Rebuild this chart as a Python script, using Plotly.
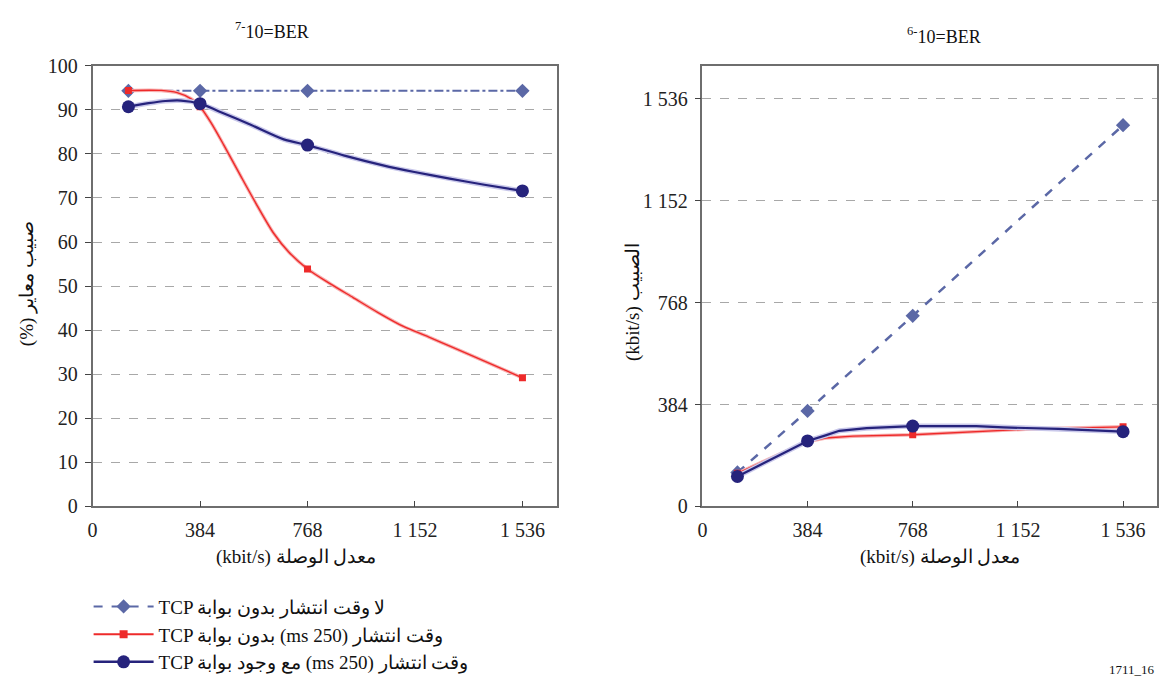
import plotly.graph_objects as go

# ---------------- data ----------------
rate_ticks = [0, 384, 768, 1152, 1536]
rate_tick_labels = ["0", "384", "768", "1 152", "1 536"]
pct_ticks = [0, 10, 20, 30, 40, 50, 60, 70, 80, 90, 100]

key_rates = [128, 384, 768, 1536]

# Left panel: BER = 10^-7, normalized throughput (%)
l_nodelay = [94.3, 94.3, 94.3, 94.3]
l_delay_nogw = [94.4, 90.7, 53.9, 29.2]
l_delay_gw = [90.7, 91.4, 82.0, 71.6]

l_nogw_curve_x = [128, 245, 302, 352, 384, 423, 469, 530, 587, 647, 700, 768,
                  850, 931, 1020, 1109, 1200, 1287, 1400, 1536]
l_nogw_curve_y = [94.4, 94.4, 93.9, 92.5, 90.7, 87.1, 82.0, 74.9, 68.4, 62.0, 57.8, 53.9,
                  50.5, 47.4, 44.0, 40.9, 38.5, 36.1, 33.0, 29.2]
l_gw_curve_x = [128, 200, 260, 316, 384, 450, 565, 683, 768, 900, 1038, 1150, 1276, 1400, 1536]
l_gw_curve_y = [90.7, 91.5, 92.0, 92.1, 91.4, 89.7, 86.6, 83.3, 82.0, 79.6, 77.4, 75.9, 74.4, 73.0, 71.6]

# Right panel: BER = 10^-6, throughput (kbit/s)
r_nodelay = [128, 360, 718, 1436]
r_delay_nogw = [125, 245, 270, 300]
r_delay_gw = [113, 247, 303, 282]

r_nogw_curve_x = [128, 384, 450, 550, 768, 1000, 1200, 1536]
r_nogw_curve_y = [125, 245, 258, 265, 270, 283, 292, 300]
r_gw_curve_x = [128, 384, 450, 500, 600, 768, 1000, 1100, 1300, 1450, 1536]
r_gw_curve_y = [113, 247, 268, 285, 295, 303, 303, 298, 292, 285, 282]

legend_names = [
    "TCP لا وقت انتشار بدون بوابة",
    "TCP بدون بوابة (ms 250) وقت انتشار",
    "TCP مع وجود بوابة (ms 250) وقت انتشار",
]
titles = ["<sup>7-</sup>10=BER", "<sup>6-</sup>10=BER"]
x_title = "(kbit/s) معدل الوصلة"
yl_title = "(%) صبيب معاير"
yr_title = "(kbit/s) الصبيب"
fig_id = "1711_16"

# ---------------- styles ----------------
C_DIAM = "#5b68a6"
C_RED = "#ee2a2a"
C_BLUE = "#26237c"
C_HALO = "#c9c8ea"
FONT = "Liberation Serif, Times New Roman, serif"

fig = go.Figure()

# Left panel
fig.add_trace(go.Scatter(x=key_rates, y=l_nodelay, mode="lines+markers", showlegend=False,
                         line=dict(color=C_DIAM, width=2, dash="dashdot"),
                         marker=dict(symbol="diamond", size=11, color=C_DIAM), xaxis="x", yaxis="y"))
fig.add_trace(go.Scatter(x=l_nogw_curve_x, y=l_nogw_curve_y, mode="lines", showlegend=False,
                         line=dict(color="#f7b0b0", width=3.5, shape="spline", smoothing=0.8),
                         xaxis="x", yaxis="y"))
fig.add_trace(go.Scatter(x=l_nogw_curve_x, y=l_nogw_curve_y, mode="lines", showlegend=False,
                         line=dict(color=C_RED, width=1.4, shape="spline", smoothing=0.8),
                         xaxis="x", yaxis="y"))
fig.add_trace(go.Scatter(x=key_rates, y=l_delay_nogw, mode="markers", showlegend=False,
                         marker=dict(symbol="square", size=7, color=C_RED), xaxis="x", yaxis="y"))
fig.add_trace(go.Scatter(x=l_gw_curve_x, y=l_gw_curve_y, mode="lines", showlegend=False,
                         line=dict(color=C_HALO, width=5, shape="spline", smoothing=0.8),
                         xaxis="x", yaxis="y"))
fig.add_trace(go.Scatter(x=l_gw_curve_x, y=l_gw_curve_y, mode="lines", showlegend=False,
                         line=dict(color=C_BLUE, width=2.2, shape="spline", smoothing=0.8),
                         xaxis="x", yaxis="y"))
fig.add_trace(go.Scatter(x=key_rates, y=l_delay_gw, mode="markers", showlegend=False,
                         marker=dict(symbol="circle", size=13, color=C_BLUE), xaxis="x", yaxis="y"))

# Right panel
fig.add_trace(go.Scatter(x=key_rates, y=r_nodelay, mode="lines+markers", showlegend=False,
                         line=dict(color=C_DIAM, width=2.5, dash="dash"),
                         marker=dict(symbol="diamond", size=11, color=C_DIAM), xaxis="x2", yaxis="y2"))
fig.add_trace(go.Scatter(x=r_nogw_curve_x, y=r_nogw_curve_y, mode="lines", showlegend=False,
                         line=dict(color="#f7b0b0", width=3.5), xaxis="x2", yaxis="y2"))
fig.add_trace(go.Scatter(x=r_nogw_curve_x, y=r_nogw_curve_y, mode="lines", showlegend=False,
                         line=dict(color=C_RED, width=1.4), xaxis="x2", yaxis="y2"))
fig.add_trace(go.Scatter(x=key_rates, y=r_delay_nogw, mode="markers", showlegend=False,
                         marker=dict(symbol="square", size=7, color=C_RED), xaxis="x2", yaxis="y2"))
fig.add_trace(go.Scatter(x=r_gw_curve_x, y=r_gw_curve_y, mode="lines", showlegend=False,
                         line=dict(color=C_HALO, width=5), xaxis="x2", yaxis="y2"))
fig.add_trace(go.Scatter(x=r_gw_curve_x, y=r_gw_curve_y, mode="lines", showlegend=False,
                         line=dict(color=C_BLUE, width=2.2), xaxis="x2", yaxis="y2"))
fig.add_trace(go.Scatter(x=key_rates, y=r_delay_gw, mode="markers", showlegend=False,
                         marker=dict(symbol="circle", size=13, color=C_BLUE), xaxis="x2", yaxis="y2"))

# Legend entries
fig.add_trace(go.Scatter(x=[None], y=[None], mode="lines+markers", name=legend_names[0],
                         line=dict(color=C_DIAM, width=2, dash="dash"),
                         marker=dict(symbol="diamond", size=11, color=C_DIAM)))
fig.add_trace(go.Scatter(x=[None], y=[None], mode="lines+markers", name=legend_names[1],
                         line=dict(color=C_RED, width=2),
                         marker=dict(symbol="square", size=8, color=C_RED)))
fig.add_trace(go.Scatter(x=[None], y=[None], mode="lines+markers", name=legend_names[2],
                         line=dict(color=C_BLUE, width=2.5),
                         marker=dict(symbol="circle", size=13, color=C_BLUE)))

# The page body keeps its default 8px margin; the figure is sized to fill the window exactly.
OFF = 8
W, H = 1167 - 2 * OFF, 690 - 2 * OFF
def px(x):
    return min(1.0, max(0.0, (x - OFF) / W))
def py(y):
    return min(1.0, max(0.0, 1 - (y - OFF) / H))

axis_common = dict(showline=True, linecolor="#6e6e6e", linewidth=1.5, mirror=True,
                   tickfont=dict(family=FONT, size=20, color="#222"), zeroline=False,
                   tickcolor="#444", ticklen=6, tickwidth=1.2)
xcommon = dict(axis_common, range=[0, 1660], tickvals=rate_ticks, ticktext=rate_tick_labels,
               ticks="inside", showgrid=False, ticklabelstandoff=5)
ycommon = dict(axis_common, ticks="outside", showgrid=True, gridcolor="#a8a8a8",
               griddash="dash", gridwidth=1, ticklabelstandoff=3)

def ann(text, x, y, size=18, angle=0):
    return dict(text=text, x=(x - OFF) / W, y=1 - (y - OFF) / H, xref="paper", yref="paper",
                showarrow=False, xanchor="center", yanchor="middle", textangle=angle,
                font=dict(family=FONT, size=size, color="#111"))

fig.update_layout(
    width=W, height=H,
    margin=dict(l=0, r=0, t=0, b=0),
    paper_bgcolor="white", plot_bgcolor="white",
    font=dict(family=FONT, color="#222"),
    xaxis=dict(xcommon, domain=[px(88), px(555)], anchor="y"),
    yaxis=dict(ycommon, domain=[py(519), py(57)], range=[0, 100], tickvals=pct_ticks, anchor="x"),
    xaxis2=dict(xcommon, domain=[px(701), px(1158)], anchor="y2"),
    yaxis2=dict(ycommon, domain=[py(519), py(57)], range=[0, 1660], tickvals=rate_ticks,
                ticktext=rate_tick_labels, anchor="x2"),
    legend=dict(x=px(84), y=py(604), xanchor="left", yanchor="top", bgcolor="rgba(0,0,0,0)",
                font=dict(family=FONT, size=19, color="#111"), traceorder="normal",
                tracegroupgap=0, itemwidth=60),
    annotations=[
        ann(titles[0], 268, 20),
        ann(titles[1], 944, 25),
        ann(x_title, 292, 572, 19),
        ann(x_title, 940, 572, 19),
        ann(yl_title, 22, 285, 19, -90),
        ann(yr_title, 632, 305, 19, -90),
        ann(fig_id, 1133, 690, 13),
    ],
)

fig.write_html("out.html", config={"displayModeBar": False})
